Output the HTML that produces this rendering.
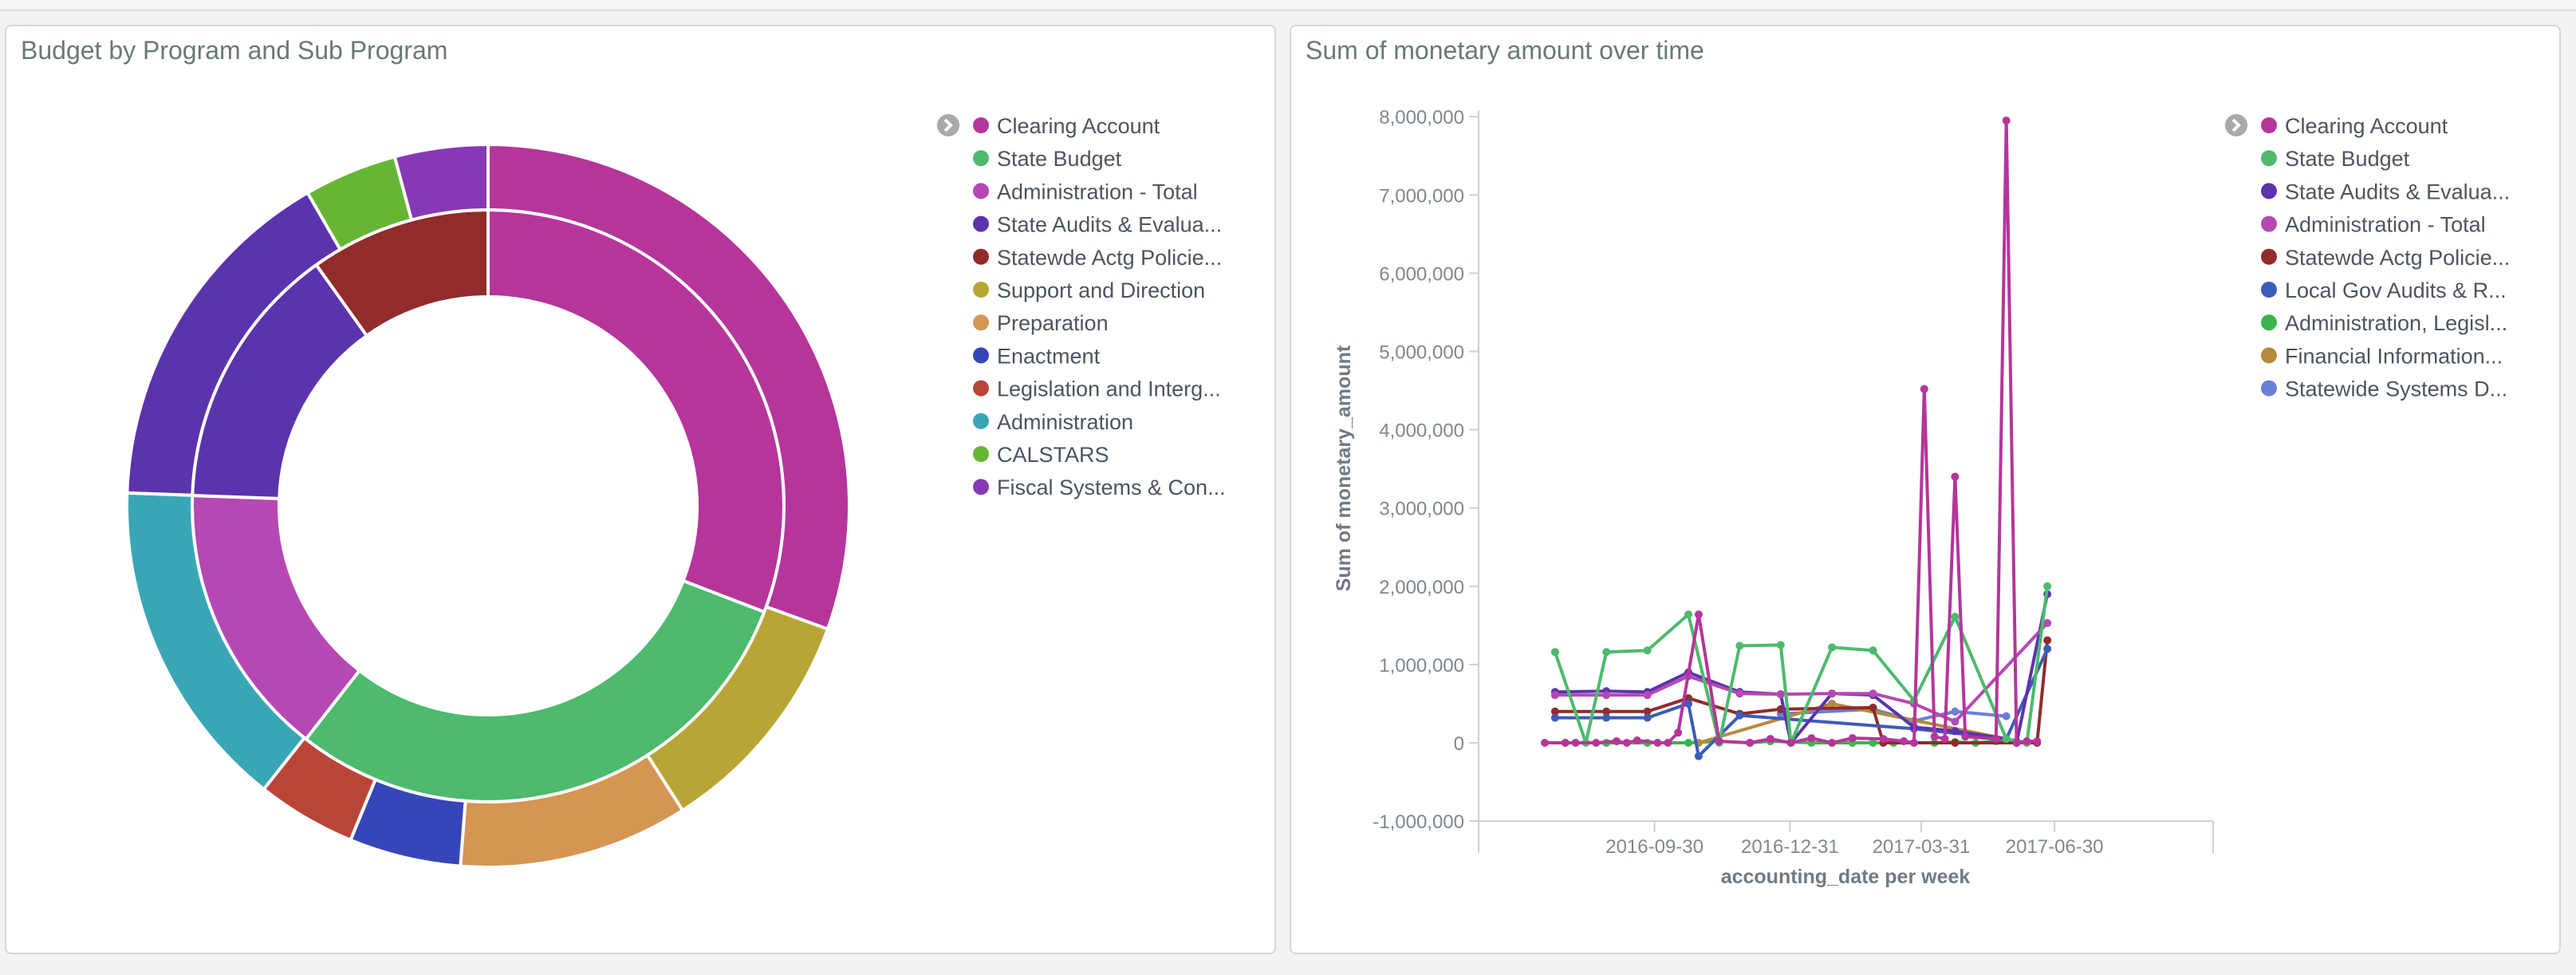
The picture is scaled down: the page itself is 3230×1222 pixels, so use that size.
<!DOCTYPE html>
<html><head><meta charset="utf-8"><style>
body{margin:0;width:3230px;height:1222px;background:#f3f3f3;font-family:"Liberation Sans",sans-serif;overflow:hidden;position:relative}
.panel{position:absolute;top:31px;height:1165px;background:#fff;border:2px solid #d6d6d6;border-radius:8px;box-sizing:border-box}
.title{position:absolute;left:18px;top:12px;font-size:32px;color:#6a7878}
svg{position:absolute;left:0;top:0}
</style></head><body>
<div style="position:absolute;left:0;top:0;width:3230px;height:12px;background:#f7f7f7;border-bottom:2px solid #dcdcdc"></div>
<div class="panel" style="left:6px;width:1594px"><div class="title">Budget by Program and Sub Program</div></div>
<div class="panel" style="left:1617px;width:1594px"><div class="title">Sum of monetary amount over time</div></div>
<svg id="s" width="3230" height="1222"></svg>
<script>
// donut data (fractions in degrees of share)
const innerLabels=["Clearing Account","State Budget","Administration - Total","State Audits & Evalua...","Statewde Actg Policie..."];
const innerValues=[111,107,54,52.5,35.5];
const innerColors=["#b5359b","#4dba6d","#b648b3","#5b33ad","#922b2b"];
const outerLabels=["Clearing Account","Support and Direction","Preparation","Enactment","Legislation and Interg...","Administration","State Audits & Evalua...","CALSTARS","Fiscal Systems & Con..."];
const outerValues=[110,37.5,37,18,16,53.7,58,15,15];
const outerColors=["#b5359b","#b8a535","#d59553","#3646b8","#b94538","#39a6b6","#5b33ad","#66b636","#8739b5"];
const leftLegend=["Clearing Account","State Budget","Administration - Total","State Audits & Evalua...","Statewde Actg Policie...","Support and Direction","Preparation","Enactment","Legislation and Interg...","Administration","CALSTARS","Fiscal Systems & Con..."];
const leftLegendColors=["#b5359b","#4dba6d","#b648b3","#5b33ad","#922b2b","#b8a535","#d59553","#3646b8","#b94538","#39a6b6","#66b636","#8739b5"];

// line chart data: weeks since 2016-07-17, values in millions
const seriesNames=["Clearing Account","State Budget","State Audits & Evalua...","Administration - Total","Statewde Actg Policie...","Local Gov Audits & R...","Administration, Legisl...","Financial Information...","Statewide Systems D..."];
const seriesColors=["#b5359b","#4dba6d","#5b33ad","#b648b3","#922b2b","#3b5cb8","#3cb44b","#b7893a","#6a7fd6"];
const clearingWeeks=[0,2,3,5,7,8,9,11,12,13,15,17,20,22,24,26,28,30,33,35,36,37,38,39,40,41,44,45,46,47,48];
const clearingVals=[0,0,0,0,0.02,0,0.03,0,0,0.13,1.64,0.02,0,0.05,0,0.06,0,0.06,0.05,0.02,0,4.52,0.08,0.05,3.4,0.08,0.05,7.95,0,0.02,0.02];
const budgetWeeks=[1,4,6,10,14,17,19,23,24,28,32,36,40,45,47,49];
const budgetVals=[1.16,0,1.16,1.18,1.64,0,1.24,1.25,0,1.22,1.18,0.54,1.61,0.05,0,2.0];
const auditsWeeks=[1,6,10,14,19,23,24,28,32,36,40,45,46,49];
const auditsVals=[0.65,0.66,0.65,0.9,0.65,0.62,0,0.63,0.61,0.2,0.15,0.05,0,1.9];
const adminTotWeeks=[1,6,10,14,19,23,28,32,36,40,49];
const adminTotVals=[0.61,0.61,0.61,0.85,0.63,0.62,0.63,0.63,0.5,0.27,1.53];
const statewdeWeeks=[1,6,10,14,19,23,32,33,40,46,48,49];
const statewdeVals=[0.4,0.4,0.4,0.57,0.37,0.43,0.45,0,0,0,0,1.31];
const localWeeks=[1,6,10,14,15,19,36,45,49];
const localVals=[0.32,0.32,0.32,0.5,-0.17,0.35,0.18,0.05,1.2];
const adminLegWeeks=[2,6,10,14,17,20,22,24,26,28,30,32,34,36,38,40,42,44,46,47];
const adminLegVals=[0,0,0,0,0.02,0,0.02,0.01,0,0,0,0,0,0,0,0.01,0,0.02,0.02,0];
const finWeeks=[15,28,45];
const finVals=[0,0.5,0.05];
const sysWeeks=[23,32,36,40,45];
const sysVals=[0.37,0.43,0.28,0.4,0.34];
const allWeeks=[clearingWeeks,budgetWeeks,auditsWeeks,adminTotWeeks,statewdeWeeks,localWeeks,adminLegWeeks,finWeeks,sysWeeks];
const allVals=[clearingVals,budgetVals,auditsVals,adminTotVals,statewdeVals,localVals,adminLegVals,finVals,sysVals];
const drawOrder=[6,8,7,4,5,2,3,1,0];
const yTicks=[-1,0,1,2,3,4,5,6,7,8];
const yTickLabels=["-1,000,000","0","1,000,000","2,000,000","3,000,000","4,000,000","5,000,000","6,000,000","7,000,000","8,000,000"];
const xTickWeeks=[10.7,23.9,36.7,49.7];
const xTickLabels=["2016-09-30","2016-12-31","2017-03-31","2017-06-30"];

const NS="http://www.w3.org/2000/svg",S=document.getElementById('s');
function mk(t,a,p){const e=document.createElementNS(NS,t);for(const k in a)e.setAttribute(k,a[k]);(p||S).appendChild(e);return e;}

// donut
const cx=612,cy=634,R1=453,R2=371,R3=262;
function arc(a0,a1,ri,ro){const r=d=>(d-90)*Math.PI/180;const p=(rr,d)=>[cx+rr*Math.cos(r(d)),cy+rr*Math.sin(r(d))];const L=(a1-a0)>180?1:0;
const [x0,y0]=p(ro,a0),[x1,y1]=p(ro,a1),[x2,y2]=p(ri,a1),[x3,y3]=p(ri,a0);
return `M${x0},${y0}A${ro},${ro} 0 ${L} 1 ${x1},${y1}L${x2},${y2}A${ri},${ri} 0 ${L} 0 ${x3},${y3}Z`;}
function ring(vals,cols,ri,ro,nm){const tot=vals.reduce((a,b)=>a+b,0);let a=0;vals.forEach((v,i)=>{const b=a+v/tot*360;
const e=mk('path',{d:arc(a,b,ri,ro),fill:cols[i],stroke:'#fff','stroke-width':4});


a=b;});}
ring(innerValues,innerColors,R3,R2,'inner');
ring(outerValues,outerColors,R2,R1,'outer');

function legend(x,y0,labels,cols,nm){
 const g=mk('g',{});
 
 
 const c=mk('circle',{cx:x-41,cy:y0,r:14,fill:'#a9a9a9'},g);
 
 
 mk('path',{d:`M${x-45},${y0-7}L${x-38},${y0}L${x-45},${y0+7}`,stroke:'#fff','stroke-width':4,fill:'none'},g);
 labels.forEach((l,i)=>{const y=y0+i*41.2;
  const d=mk('circle',{cx:x,cy:y,r:10,fill:cols[i]},g);
  
  
  const t=mk('text',{x:x+20,y:y+10,'font-size':27,fill:'#4a5560'},g);t.textContent=l;
  
  });
}
legend(1230,157,leftLegend,leftLegendColors,'donut-legend');
legend(2845,157,seriesNames,seriesColors,'line-legend');

// line chart axes
const X0=1854,Y0=931,PM=98.1,X1=2775;
const xs=w=>1937+w*12.86, ys=v=>Y0-v*PM;
mk('line',{x1:X0,y1:ys(8)-8,x2:X0,y2:ys(-1)+40,stroke:'#d0d0d0','stroke-width':2});
mk('line',{x1:X0,y1:ys(-1),x2:X1,y2:ys(-1),stroke:'#d0d0d0','stroke-width':2});
mk('line',{x1:X1,y1:ys(-1),x2:X1,y2:ys(-1)+40,stroke:'#d0d0d0','stroke-width':2});
yTicks.forEach((v,i)=>{mk('line',{x1:X0-12,y1:ys(v),x2:X0,y2:ys(v),stroke:'#d0d0d0','stroke-width':2});
 const t=mk('text',{x:X0-18,y:ys(v)+9,'font-size':24,fill:'#7e8890','text-anchor':'end'});t.textContent=yTickLabels[i];
 
 });
xTickWeeks.forEach((w,i)=>{mk('line',{x1:xs(w),y1:ys(-1),x2:xs(w),y2:ys(-1)+14,stroke:'#d0d0d0','stroke-width':2});
 const t=mk('text',{x:xs(w),y:ys(-1)+40,'font-size':24,fill:'#7e8890','text-anchor':'middle'});t.textContent=xTickLabels[i];
 
 });
const xt=mk('text',{x:2314,y:1107,'font-size':25,'font-weight':'bold',fill:'#6f7a84','text-anchor':'middle'});xt.textContent='accounting_date per week';


const yt=mk('text',{x:0,y:0,'font-size':25,'font-weight':'bold',fill:'#6f7a84','text-anchor':'middle',transform:'translate(1693,587) rotate(-90)'});yt.textContent='Sum of monetary_amount';



drawOrder.forEach(si=>{const W=allWeeks[si],V=allVals[si],c=seriesColors[si];
 const g=mk('g',{});
 
 
 mk('polyline',{points:W.map((w,i)=>xs(w)+','+ys(V[i])).join(' '),fill:'none',stroke:c,'stroke-width':4,'stroke-linejoin':'round'},g);
 W.forEach((w,i)=>{const p=mk('circle',{cx:xs(w),cy:ys(V[i]),r:5,fill:c},g);
  
  });
});
</script>
</body></html>
